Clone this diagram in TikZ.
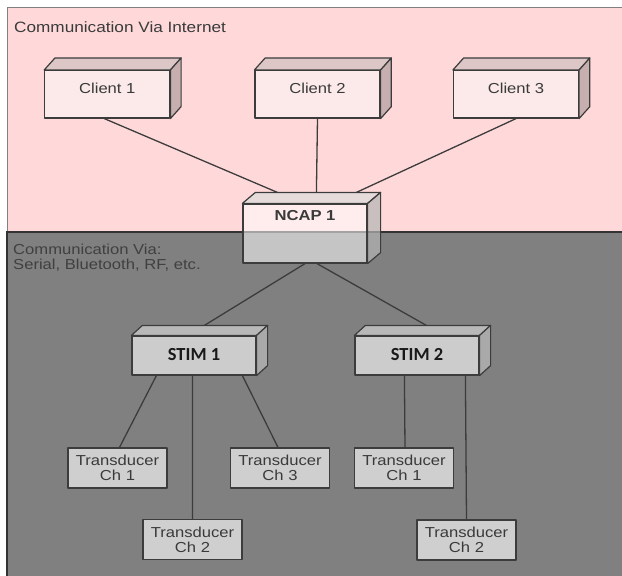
\documentclass[tikz,border=0pt]{standalone}
\usepackage{fontspec}
\setmainfont{Liberation Sans}[FakeStretch=1.15]
\newfontfamily\stimfont{Carlito}
\usetikzlibrary{calc}
\definecolor{pinkbg}{HTML}{FFD9D9}
\definecolor{graybg}{HTML}{808080}
\definecolor{edge}{HTML}{3C3C3C}
\definecolor{txt}{HTML}{3A3A3A}
\definecolor{clfront}{HTML}{FCEAEA}
\definecolor{cltop}{HTML}{DCC6C6}
\definecolor{clside}{HTML}{C7AFAF}
\definecolor{nctop}{HTML}{DCDCDC}
\definecolor{ncside}{HTML}{B4B4B4}
\definecolor{stfront}{HTML}{CCCCCC}
\definecolor{sttop}{HTML}{B8B8B8}
\definecolor{stside}{HTML}{A9A9A9}
\definecolor{trfill}{HTML}{CFCFCF}
\newcommand{\boxfaces}[5]{%
  \path[#4] (#1.north west) -- ++(#2,-#3) -- ([shift={(#2,-#3)}]#1.north east) -- (#1.north east) -- cycle;
  \path[#5] (#1.north east) -- ++(#2,-#3) -- ([shift={(#2,-#3)}]#1.south east) -- (#1.south east) -- cycle;
}
\tikzset{
  face/.style={draw=edge, line width=1.2bp, line join=round},
  stdfont/.style={font=\fontsize{14.5}{15}\selectfont},
  client/.style={face, fill=clfront, stdfont, text=txt, inner sep=0pt,
    minimum width=125bp, text height=22.7bp, text depth=24.7bp},
  ncapbox/.style={face, fill=white, fill opacity=0.55, text opacity=1, text=txt,
    font=\fontsize{14.5}{15}\selectfont\bfseries, inner sep=0pt,
    minimum width=124bp, text height=16.7bp, text depth=42.3bp},
  stimbox/.style={face, fill=stfront, text=black!90, inner sep=0pt,
    font=\fontsize{18.5}{20}\stimfont\bfseries,
    minimum width=124bp, text height=24bp, text depth=15bp},
  trans/.style={face, fill=trfill, stdfont, text=txt, align=center, inner sep=0pt,
    minimum width=99bp, minimum height=40bp},
  link/.style={draw=edge, line width=1.3bp},
  label/.style={text=txt, inner sep=0pt}
}
\begin{document}
\begin{tikzpicture}[x=1bp,y=-1bp]
\useasboundingbox (0,0) rectangle (622,576);
\fill[white] (0,0) rectangle (622,576);
% backgrounds
\fill[pinkbg] (7,8) rectangle (626,232);
\draw[draw=black!50, line width=1bp] (626,8) -- (7,8) -- (7,232);
\fill[graybg] (7,232) rectangle (626,580);
\draw[draw=black!80, line width=1.3bp] (626,232) -- (7,232) -- (7,580);
% region labels
\node[label, anchor=base west, font=\fontsize{15}{16}\selectfont] (lblnet) at (14,33) {Communication Via Internet};
\node[label, anchor=north west, align=left, stdfont, text=black!75] (lblser) at (13,244) {Communication Via:\\Serial, Bluetooth, RF, etc.};
% clients
\node[client] (c1) at (107.3,94.3) {Client 1};
\boxfaces{c1}{10.7}{12}{face, fill=cltop}{face, fill=clside}
\node[client] (c2) at (317.5,94.3) {Client 2};
\boxfaces{c2}{10.7}{12}{face, fill=cltop}{face, fill=clside}
\node[client] (c3) at (516,94.3) {Client 3};
\boxfaces{c3}{10.7}{12}{face, fill=cltop}{face, fill=clside}
% NCAP
\node[ncapbox] (ncap) at (305,233.5) {NCAP 1};
\boxfaces{ncap}{13}{11}{face, fill=nctop, fill opacity=0.7}{face, fill=ncside, fill opacity=0.7}
% STIMs
\node[stimbox] (s1) at (194,355.5) {STIM 1};
\boxfaces{s1}{11}{10}{face, fill=sttop}{face, fill=stside}
\node[stimbox] (s2) at (417,355.5) {STIM 2};
\boxfaces{s2}{11}{10}{face, fill=sttop}{face, fill=stside}
% transducers
\node[trans] (t11) at (117.5,468) {Transducer\\Ch 1};
\node[trans] (t12) at (192.5,539.5) {Transducer\\Ch 2};
\node[trans] (t13) at (280,468) {Transducer\\Ch 3};
\node[trans] (t21) at (404,468) {Transducer\\Ch 1};
\node[trans] (t22) at (466.5,540) {Transducer\\Ch 2};
% connection points
\coordinate (nin1) at ($(ncap.north west)+(35,-11)$);
\coordinate (nin2) at ($(ncap.north west)+(74,-11)$);
\coordinate (nin3) at ($(ncap.north west)+(114,-11)$);
\coordinate (nout1) at (ncap.south);
\coordinate (nout2) at ($(ncap.south)+(12,0)$);
\coordinate (s1in) at ($(s1.north west)+(73,-10)$);
\coordinate (s2in) at ($(s2.north west)+(72,-10)$);
% connectors
\draw[link] ($(c1.south)+(-3,0)$) -- (nin1);
\draw[link] (c2.south) -- (nin2);
\draw[link] (c3.south) -- (nin3);
\draw[link] (nout1) -- (s1in);
\draw[link] (nout2) -- (s2in);
\draw[link] ($(s1.south west)+(25,0)$) -- ($(t11.north)+(2,0)$);
\draw[link] ($(s1.south west)+(61,0)$) -- (t12.north);
\draw[link] ($(s1.south west)+(111,0)$) -- ($(t13.north)+(-2,0)$);
\draw[link] ($(s2.south west)+(50,0)$) -- ($(t21.north)+(1,0)$);
\draw[link] ($(s2.south west)+(111,0)$) -- (t22.north);
\end{tikzpicture}
\end{document}
